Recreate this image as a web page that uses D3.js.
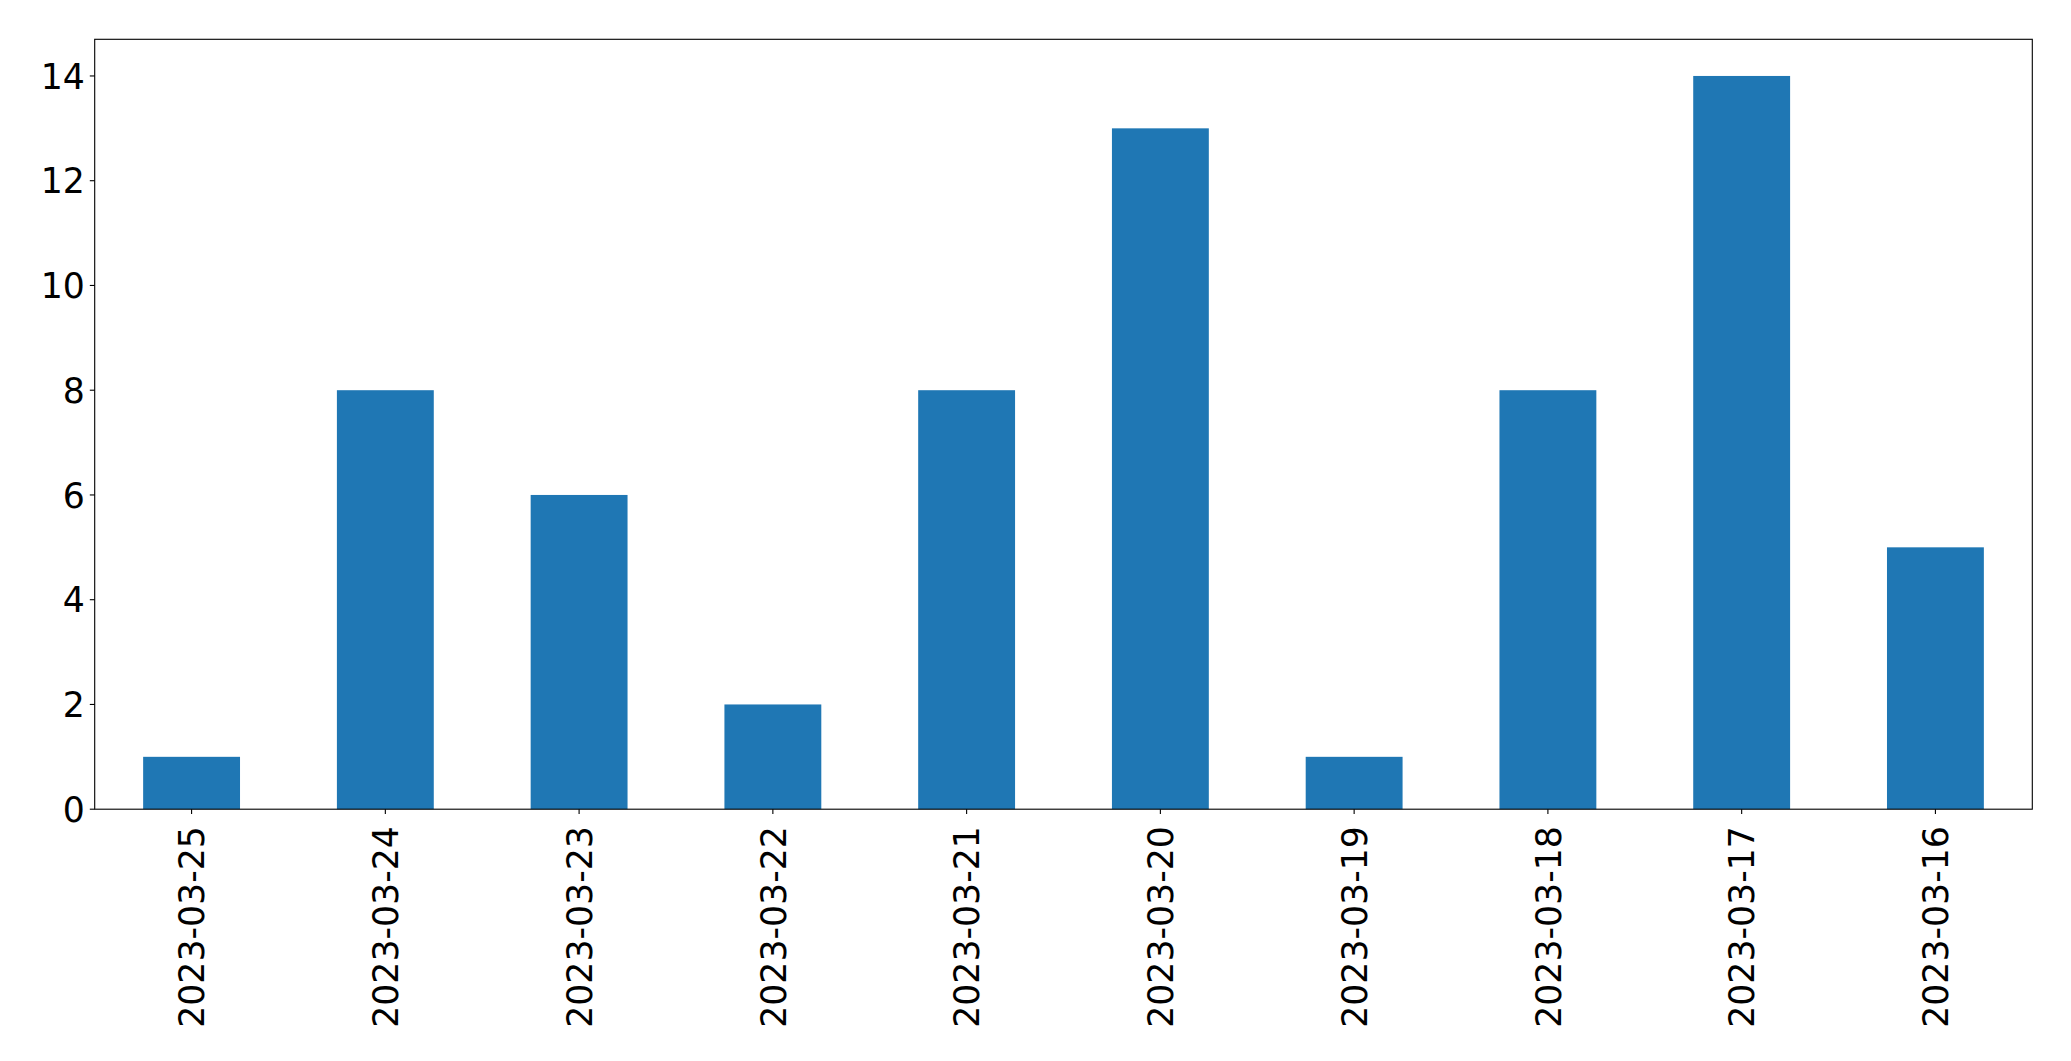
<!DOCTYPE html>
<html>
<head>
<meta charset="utf-8">
<script src="https://cdn.jsdelivr.net/npm/d3@7"></script>
<style>
  html, body { margin: 0; padding: 0; background: #fff; }
  svg { display: block; }
  text { font-family: "DejaVu Sans", sans-serif; fill: #000; }
</style>
</head>
<body>
<svg id="chart" width="2071" height="1061"></svg>
<script>
const categories = ["2023-03-25","2023-03-24","2023-03-23","2023-03-22","2023-03-21","2023-03-20","2023-03-19","2023-03-18","2023-03-17","2023-03-16"];
const values = [1, 8, 6, 2, 8, 13, 1, 8, 14, 5];
const yTicks = [0, 2, 4, 6, 8, 10, 12, 14];

(function () {
const plotL = 94.7, plotR = 2032.3, plotT = 39.3, plotB = 809.2;
const fontPx = 34.7;
const tickLen = 4.9, pad = 4.9;

const svg = d3.select("#chart");

const x = d3.scaleLinear().domain([-0.5, categories.length - 0.5]).range([plotL, plotR]);
const y = d3.scaleLinear().domain([0, d3.max(values) * 1.05]).range([plotB, plotT]);

// bars
svg.append("g").selectAll("rect").data(values).join("rect")
  .attr("x", (d, i) => x(i - 0.25))
  .attr("width", (d, i) => x(i + 0.25) - x(i - 0.25))
  .attr("y", d => y(d))
  .attr("height", d => y(0) - y(d))
  .attr("fill", "#1f77b4");

// frame
svg.append("rect")
  .attr("x", plotL).attr("y", plotT)
  .attr("width", plotR - plotL).attr("height", plotB - plotT)
  .attr("fill", "none").attr("stroke", "#000").attr("stroke-width", 1.11);

// y axis ticks
const yg = svg.append("g");
yg.selectAll("line").data(yTicks).join("line")
  .attr("x1", plotL - tickLen).attr("x2", plotL)
  .attr("y1", d => y(d)).attr("y2", d => y(d))
  .attr("stroke", "#000").attr("stroke-width", 1.11);
yg.selectAll("text").data(yTicks).join("text")
  .attr("x", plotL - tickLen - pad)
  .attr("y", d => y(d))
  .attr("dy", "0.3645em")
  .attr("text-anchor", "end")
  .style("font-size", fontPx + "px")
  .text(d => d);

// x axis ticks
const xg = svg.append("g");
xg.selectAll("line").data(categories).join("line")
  .attr("x1", (d, i) => x(i)).attr("x2", (d, i) => x(i))
  .attr("y1", plotB).attr("y2", plotB + tickLen)
  .attr("stroke", "#000").attr("stroke-width", 1.11);
xg.selectAll("text").data(categories).join("text")
  .attr("transform", (d, i) => `translate(${x(i)},${plotB + 17}) rotate(-90)`)
  .attr("dy", "0.3645em")
  .attr("text-anchor", "end")
  .style("font-size", fontPx + "px")
  .text(d => d);
})();
</script>
</body>
</html>
